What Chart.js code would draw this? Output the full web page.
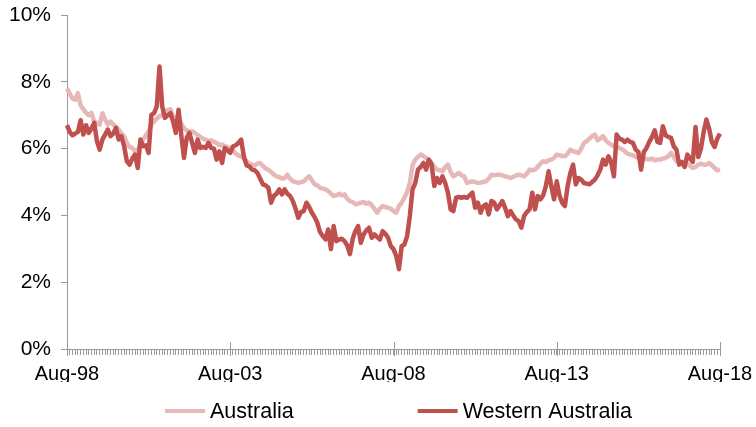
<!DOCTYPE html>
<html><head><meta charset="utf-8">
<script src="https://cdn.jsdelivr.net/npm/chart.js@4.4.0/dist/chart.umd.min.js"></script>
<style>html,body{margin:0;padding:0;background:#fff}#wrap{width:756px;height:427px;position:relative}</style>
</head><body><div id="wrap"><canvas id="c"></canvas></div>
<script>
const seriesNames = ['Australia', 'Western Australia'];

// Unemployment rate (%), monthly Aug-98 .. Aug-18
const australia = [
  7.81,7.65,7.50,7.46,7.66,7.30,7.18,7.07,7.00,7.07,
  6.80,6.77,6.72,7.06,6.87,6.72,6.81,6.72,6.65,6.57,
  6.45,6.37,6.17,6.05,6.02,5.92,5.97,6.12,6.27,6.40,
  6.52,6.72,6.81,6.90,6.97,7.01,7.10,7.16,7.18,6.97,
  6.90,6.87,6.75,6.60,6.55,6.50,6.52,6.47,6.40,6.35,
  6.30,6.27,6.22,6.25,6.20,6.17,6.10,6.12,6.07,6.05,
  5.97,5.95,5.85,5.80,5.77,5.70,5.62,5.55,5.52,5.50,
  5.55,5.57,5.48,5.40,5.37,5.30,5.22,5.17,5.15,5.10,
  5.12,5.22,5.10,5.02,5.00,4.97,5.00,5.02,5.10,5.17,
  5.05,4.93,4.90,4.83,4.80,4.78,4.73,4.65,4.58,4.60,
  4.65,4.60,4.63,4.50,4.43,4.40,4.33,4.35,4.38,4.40,
  4.35,4.38,4.30,4.20,4.08,4.20,4.28,4.25,4.23,4.20,
  4.13,4.08,4.28,4.38,4.53,4.70,4.97,5.50,5.67,5.75,
  5.82,5.78,5.72,5.65,5.57,5.45,5.37,5.35,5.32,5.45,
  5.52,5.30,5.17,5.22,5.27,5.20,5.17,4.97,5.00,5.02,
  5.00,4.97,4.98,5.00,5.02,5.10,5.22,5.20,5.22,5.22,
  5.20,5.17,5.15,5.12,5.15,5.20,5.22,5.20,5.17,5.25,
  5.37,5.35,5.37,5.45,5.55,5.62,5.60,5.65,5.67,5.72,
  5.82,5.80,5.78,5.77,5.85,5.97,5.92,5.90,5.87,6.00,
  6.17,6.22,6.30,6.37,6.42,6.25,6.30,6.37,6.25,6.17,
  6.12,6.07,6.05,6.02,5.98,5.92,5.85,5.82,5.80,5.75,
  5.72,5.70,5.72,5.68,5.67,5.70,5.65,5.67,5.67,5.70,
  5.72,5.77,5.87,5.75,5.62,5.60,5.58,5.50,5.55,5.48,
  5.42,5.45,5.52,5.55,5.52,5.52,5.57,5.50,5.42,5.35,
  5.37
];

const westernAustralia = [
  6.70,6.50,6.40,6.45,6.50,6.85,6.42,6.70,6.47,6.60,
  6.77,6.22,5.97,6.27,6.42,6.57,6.37,6.45,6.62,6.27,
  6.37,6.07,5.62,5.52,5.70,5.82,5.42,6.27,6.07,6.10,
  5.87,7.01,7.06,7.26,8.46,7.26,6.92,7.00,7.06,6.81,
  6.47,7.16,6.40,5.72,6.32,6.47,6.17,5.87,6.27,6.02,
  6.05,6.02,6.17,6.02,6.00,5.67,5.92,5.57,6.02,5.95,
  5.87,6.07,6.10,6.17,6.27,5.77,5.50,5.47,5.37,5.35,
  5.27,5.10,4.93,4.90,4.83,4.38,4.58,4.65,4.78,4.63,
  4.78,4.65,4.58,4.43,4.20,3.93,4.10,4.13,4.38,4.25,
  4.08,3.95,3.78,3.50,3.38,3.28,3.58,2.99,3.68,3.23,
  3.28,3.30,3.23,3.10,2.84,3.30,3.53,3.68,3.18,3.43,
  3.55,3.63,3.33,3.43,3.35,3.28,3.53,3.45,3.33,3.08,
  2.99,2.79,2.39,3.08,3.13,3.38,3.98,4.78,4.97,5.37,
  5.45,5.57,5.37,5.67,5.52,4.88,5.12,4.97,5.17,4.97,
  4.68,4.18,4.13,4.53,4.55,4.53,4.55,4.53,4.60,4.68,
  4.23,4.38,4.08,4.28,4.33,4.03,4.43,4.38,4.18,4.30,
  4.43,4.23,3.98,4.13,4.00,3.88,3.83,3.63,3.98,4.10,
  4.18,4.68,4.18,4.58,4.48,4.60,4.88,5.32,4.88,4.48,
  5.02,4.60,4.38,4.28,4.88,5.27,5.52,4.93,5.12,5.07,
  4.97,4.95,4.93,5.00,5.07,5.20,5.37,5.67,5.52,5.77,
  5.60,5.17,6.42,6.30,6.27,6.20,6.27,6.20,6.17,5.97,
  5.90,5.37,5.90,6.02,6.20,6.35,6.55,6.20,6.17,6.67,
  6.40,6.35,6.32,6.07,5.97,5.52,5.60,5.45,5.82,5.70,
  5.60,6.65,5.75,6.00,6.50,6.87,6.60,6.20,6.05,6.30,
  6.45
];

const yTickValues = [0, 2, 4, 6, 8, 10];
const monthNames = ['Jan','Feb','Mar','Apr','May','Jun','Jul','Aug','Sep','Oct','Nov','Dec'];
const categories = [];
for (let i = 0; i < australia.length; i++) {
  const m = 7 + i;
  categories.push(monthNames[m % 12] + '-' + String((1998 + Math.floor(m / 12)) % 100).padStart(2, '0'));
}
const labelEvery = 60;

const FONT = '"Liberation Sans", Arial, sans-serif';
const AXIS_GREY = '#9a9a9a';

const extras = {
  id: 'extras',
  afterDraw(chart) {
    const ctx = chart.ctx, xs = chart.scales.x, ys = chart.scales.y;
    ctx.save();
    // major ticks on x axis
    ctx.strokeStyle = AXIS_GREY; ctx.lineWidth = 1;
    ctx.beginPath();
    categories.forEach((c, i) => {
      if (i % labelEvery === 0) {
        const px = Math.round(xs.getPixelForValue(i)) + 0.5;
        ctx.moveTo(px, ys.bottom - 7);
        ctx.lineTo(px, ys.bottom + 7);
      }
    });
    ctx.stroke();
    // legend
    ctx.font = '21.5px ' + FONT;
    ctx.textBaseline = 'middle';
    ctx.textAlign = 'left';
    let x = 165; const y = 411;
    chart.data.datasets.forEach(ds => {
      ctx.strokeStyle = ds.borderColor; ctx.lineWidth = 4; ctx.lineCap = 'butt';
      ctx.beginPath(); ctx.moveTo(x, y); ctx.lineTo(x + 40, y); ctx.stroke();
      ctx.fillStyle = '#000';
      ctx.fillText(ds.label, x + 45, y + 1);
      x += 45 + ctx.measureText(ds.label).width + 124;
    });
    ctx.restore();
  }
};

new Chart(document.getElementById('c'), {
  type: 'line',
  data: {
    labels: categories,
    datasets: [
      { label: seriesNames[0], data: australia, borderColor: '#E6B9B8', backgroundColor: '#E6B9B8',
        borderWidth: 4.5, pointRadius: 0, tension: 0, order: 2, borderJoinStyle: 'round' },
      { label: seriesNames[1], data: westernAustralia, borderColor: '#C0504D', backgroundColor: '#C0504D',
        borderWidth: 4.5, pointRadius: 0, tension: 0, order: 1, borderJoinStyle: 'round' }
    ]
  },
  options: {
    responsive: true,
    maintainAspectRatio: false,
    animation: false,
    events: [],
    layout: { padding: { top: 0, right: 0, bottom: 45, left: 0 } },
    plugins: { legend: { display: false }, tooltip: { enabled: false } },
    scales: {
      x: {
        type: 'category',
        offset: false,
        grid: { drawOnChartArea: false, tickLength: 6, color: AXIS_GREY, lineWidth: 1 },
        border: { color: AXIS_GREY, width: 1 },
        ticks: {
          autoSkip: false, maxRotation: 0, minRotation: 0, padding: 7,
          color: '#000', font: { size: 20, family: FONT },
          callback: function (v, i) { return i % labelEvery === 0 ? this.getLabelForValue(v) : ''; }
        },
        afterFit: s => { s.height = 33; s.paddingLeft = 0; s.paddingRight = 36; s.paddingTop = 0; s.paddingBottom = 0; }
      },
      y: {
        min: yTickValues[0], max: yTickValues[yTickValues.length - 1],
        afterBuildTicks: s => { s.ticks = yTickValues.map(v => ({ value: v })); },
        grid: { drawOnChartArea: false, tickLength: 6, color: AXIS_GREY, lineWidth: 1 },
        border: { color: AXIS_GREY, width: 1 },
        ticks: { color: '#000', padding: 10, font: { size: 21, family: FONT }, callback: v => v + '%' },
        afterFit: s => { s.width = 67; s.paddingTop = 15; s.paddingBottom = 0; s.paddingLeft = 0; s.paddingRight = 0; }
      }
    }
  },
  plugins: [extras]
});
</script></body></html>
